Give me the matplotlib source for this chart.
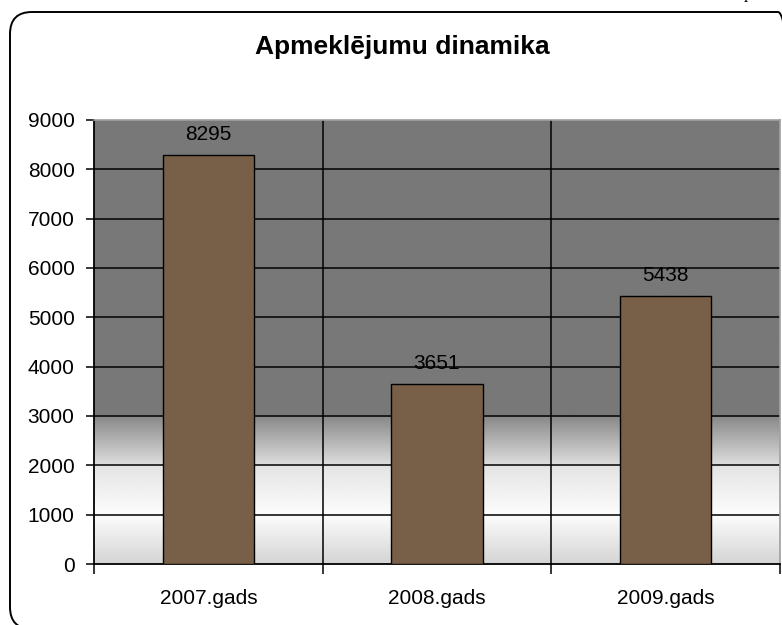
import numpy as np
import matplotlib
matplotlib.use("Agg")
import matplotlib.pyplot as plt
from matplotlib.patches import FancyBboxPatch
from matplotlib.transforms import IdentityTransform

# data
years = ["2007.gads", "2008.gads", "2009.gads"]
visits = [8295, 3651, 5438]
y_ticks = [0, 1000, 2000, 3000, 4000, 5000, 6000, 7000, 8000, 9000]
title = "Apmeklējumu dinamika"

plt.rcParams["font.family"] = ["Liberation Sans", "DejaVu Sans"]

W, H, DPI = 782, 625, 100
fig = plt.figure(figsize=(W / DPI, H / DPI), dpi=DPI)
ax = fig.add_axes([94 / W, 1 - 564 / H, (780 - 94) / W, (564 - 120) / H])

# background gradient (gray top, white band, light gray at bottom)
v = np.linspace(0, 9000, 901)
shade = np.interp(v, [0, 1000, 2000, 2001, 3000, 3001, 9000],
                  [0.83, 0.99, 0.89, 0.87, 0.53, 0.47, 0.47])
img = np.repeat(shade[:, None], 2, axis=1)
ax.imshow(img, cmap="gray", vmin=0, vmax=1, origin="lower", aspect="auto",
          extent=[-0.5, 2.5, 0, 9000], zorder=0, interpolation="bilinear")

x = np.arange(len(years))
bars = ax.bar(x, visits, width=0.4, color="#775f48", edgecolor="black",
              linewidth=1.0, zorder=3)
ax.bar_label(bars, labels=[str(b) for b in visits], padding=8, fontsize=15,
             color="black")

# gridlines
for t in y_ticks[1:-1]:
    ax.axhline(t, color="black", lw=1.1, zorder=1)
for b in [0.5, 1.5]:
    ax.axvline(b, color="black", lw=1.1, zorder=1)

ax.set_xlim(-0.5, 2.5)
ax.set_ylim(0, 9000)
ax.set_yticks(y_ticks)
ax.tick_params(axis="y", labelsize=15, length=6, width=1.1, pad=8, direction="out")

ax.set_xticks([-0.5, 0.5, 1.5, 2.5])
ax.set_xticklabels([])
ax.set_xticks(x, minor=True)
ax.set_xticklabels(years, minor=True)
ax.tick_params(axis="x", which="major", length=7, width=1.1, direction="out")
ax.tick_params(axis="x", which="minor", length=0, labelsize=15, pad=18)

for s in ["left", "bottom"]:
    ax.spines[s].set_color("black")
    ax.spines[s].set_linewidth(1.3)
for s in ["top", "right"]:
    ax.spines[s].set_color("#a0a0a0")
    ax.spines[s].set_linewidth(1.2)

fig.text(402 / W, 1 - 47 / H, title, ha="center", va="center",
         fontsize=19, fontweight="bold")

# rounded chart border, running off the right and bottom edges
border = FancyBboxPatch((10, -4), 790, H - 12 + 4,
                        boxstyle="round,pad=0,rounding_size=22",
                        transform=IdentityTransform(), fill=False,
                        edgecolor="black", linewidth=1.4)
fig.add_artist(border)

# clipped character from the surrounding page
fig.text(748 / W, 1 + 2 / H, "p", family="Liberation Serif", fontsize=12,
         ha="center", va="baseline")

fig.savefig("out.png", dpi=DPI)
